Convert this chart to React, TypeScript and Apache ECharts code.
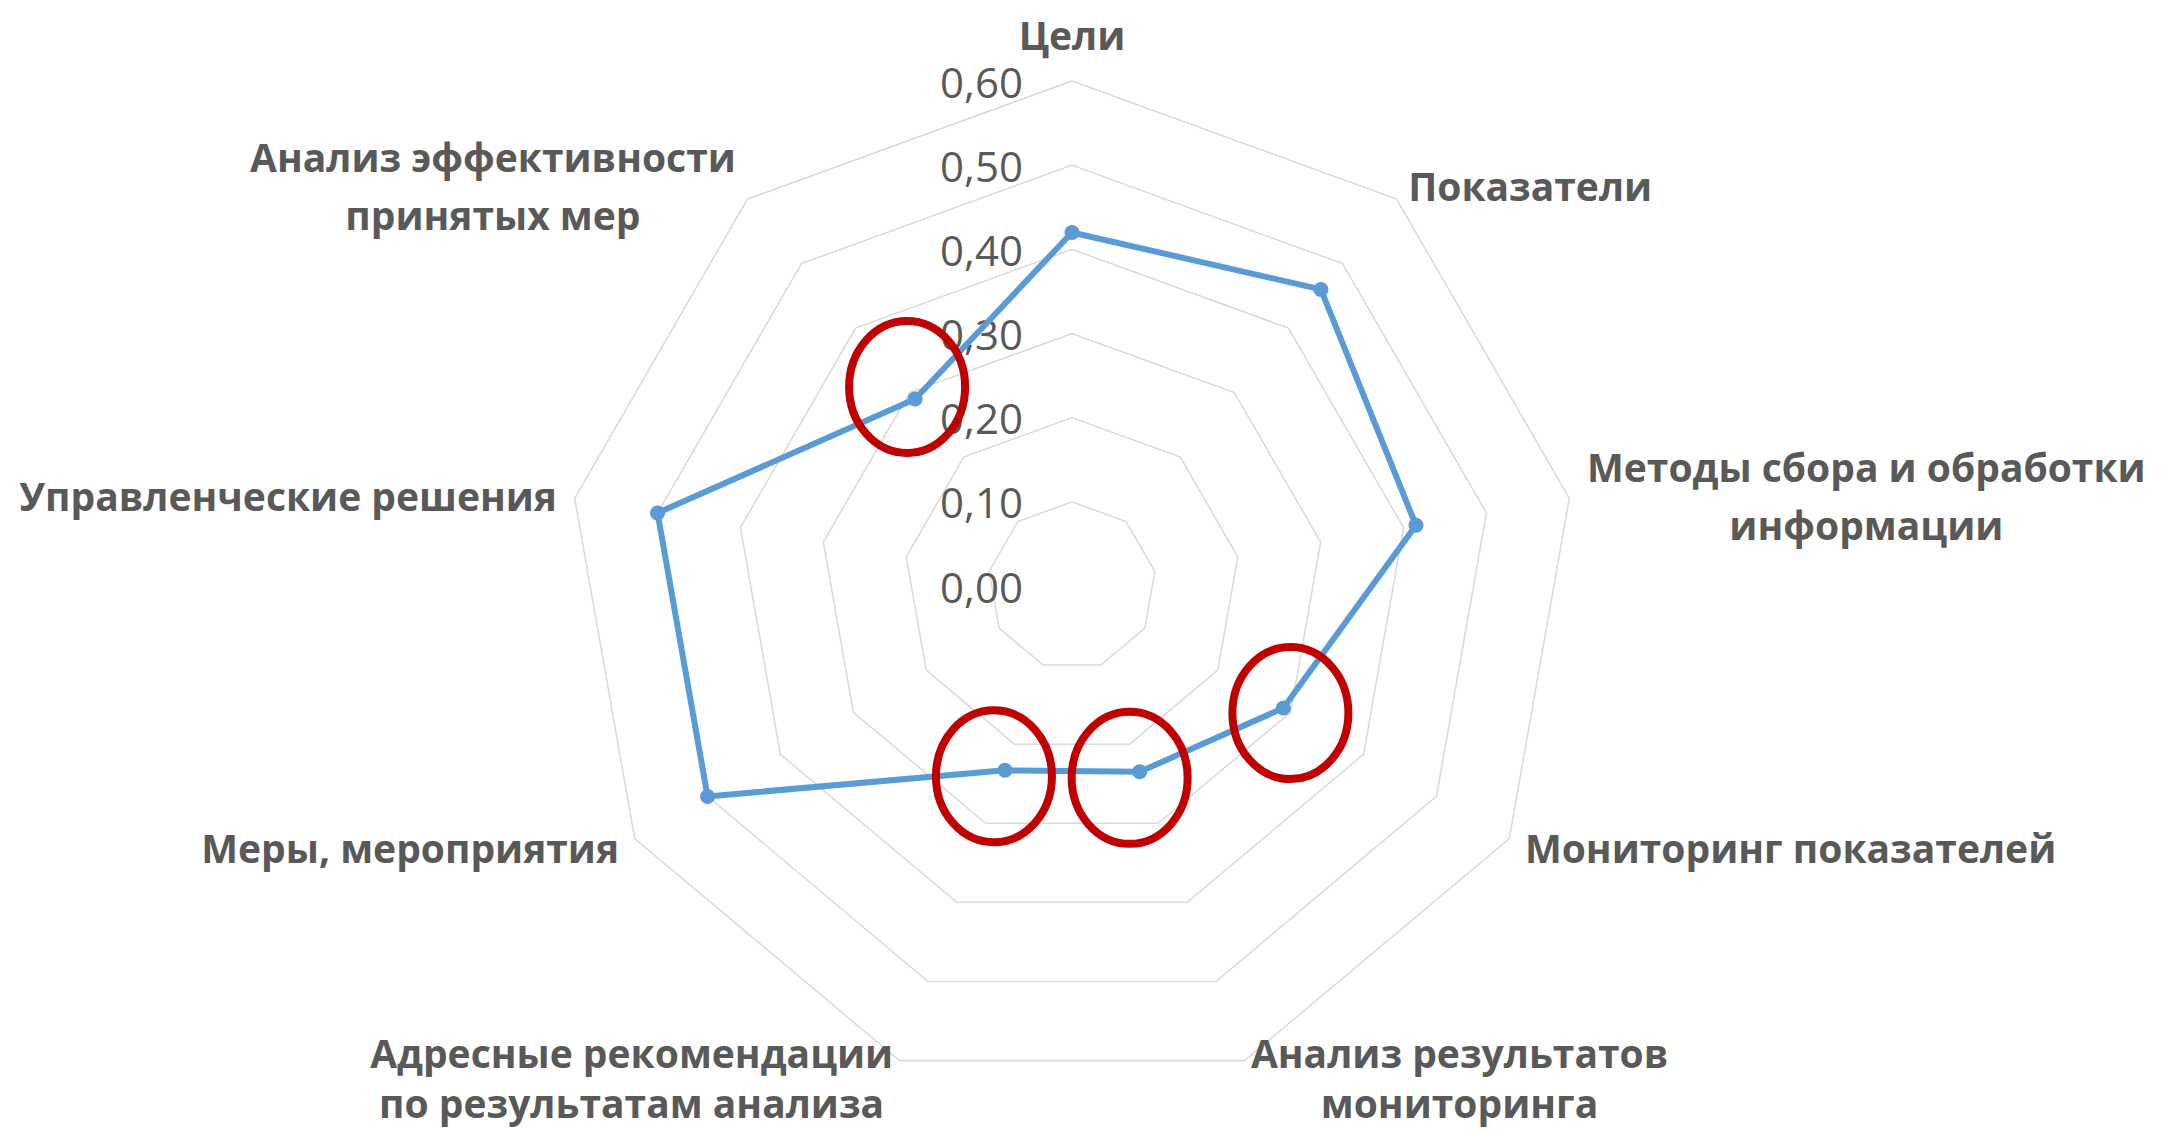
import React, { useEffect, useRef } from 'react';
import * as echarts from 'echarts';

// ---- data ----
const categories: string[] = [
  'Цели',
  'Показатели',
  'Методы сбора и обработки\nинформации',
  'Мониторинг показателей',
  'Анализ результатов\nмониторинга',
  'Адресные рекомендации\nпо результатам анализа',
  'Меры, мероприятия',
  'Управленческие решения',
  'Анализ эффективности\nпринятых мер',
];
const values: number[] = [0.42, 0.46, 0.415, 0.29, 0.235, 0.233, 0.5, 0.5, 0.29];
const axisMin = 0;
const axisMax = 0.6;
const axisInterval = 0.1;
// indices of highlighted (circled) points, with small hand-drawn offsets
const highlighted: number[] = [8, 3, 4, 5];
const highlightOffsets: number[][] = [[-8, -12], [7, 5], [-10, 6], [-11, 6]];
// labels near the bottom edge get a tighter line height
const tightLabels: number[] = [4, 5];

// ---- layout ----
const W = 2168;
const H = 1131;
const CX = 1072;
const CY = 586;
const R = 505;

const TEXT = '#595959';
const FONT = 'Open Sans';
const NAME_SIZE = 39;

export default function App() {
  const ref = useRef<HTMLDivElement>(null);
  useEffect(() => {
    if (!ref.current) return;
    const chart = echarts.init(ref.current, undefined, { renderer: 'svg' });
    const n = categories.length;
    // ECharts radar runs counter-clockwise; reorder to get clockwise order
    const order = [0, ...Array.from({ length: n - 1 }, (_, k) => n - 1 - k)];
    const tightNames = tightLabels.map((i) => categories[i]);

    const ellipses = highlighted.map((idx, j) => {
      const theta = (idx * 2 * Math.PI) / n;
      const r = ((values[idx] - axisMin) / (axisMax - axisMin)) * R;
      const px = CX + r * Math.sin(theta);
      const py = CY - r * Math.cos(theta);
      return {
        type: 'ellipse',
        z: 100,
        shape: { cx: px + highlightOffsets[j][0], cy: py + highlightOffsets[j][1], rx: 58, ry: 66 },
        style: { fill: 'none', stroke: '#C00000', lineWidth: 8 },
        silent: true,
      };
    });

    const nameStyle = {
      align: 'center',
      color: TEXT,
      fontFamily: FONT,
      fontWeight: 'bold',
      fontSize: NAME_SIZE,
    };

    chart.setOption({
      animation: false,
      backgroundColor: '#ffffff',
      radar: {
        center: [CX, CY],
        radius: R,
        startAngle: 90,
        shape: 'polygon',
        splitNumber: 6,
        nameGap: 18,
        indicator: order.map((i) => ({ name: categories[i], min: axisMin, max: axisMax })),
        axisName: {
          color: TEXT,
          fontFamily: FONT,
          fontWeight: 'bold',
          fontSize: NAME_SIZE,
          formatter: (name: string) => {
            const tag = tightNames.indexOf(name) >= 0 ? 't' : 'c';
            return name
              .split('\n')
              .map((l) => `{${tag}|${l}}`)
              .join('\n');
          },
          rich: {
            c: { ...nameStyle, lineHeight: 58 },
            t: { ...nameStyle, lineHeight: 50 },
          },
        },
        axisLine: { show: false },
        axisTick: { show: false },
        axisLabel: { show: false },
        splitLine: { lineStyle: { color: '#D9D9D9', width: 1.5 } },
        splitArea: { show: false },
      },
      polar: { center: [CX, CY], radius: R },
      angleAxis: { show: false, type: 'value', startAngle: 90, min: 0, max: 360 },
      radiusAxis: {
        type: 'value',
        min: axisMin,
        max: axisMax,
        interval: axisInterval,
        axisLine: { show: false },
        axisTick: { show: false },
        splitLine: { show: false },
        axisLabel: {
          show: true,
          margin: 49,
          color: TEXT,
          fontFamily: FONT,
          fontSize: 42,
          formatter: (v: number) => v.toFixed(2).replace('.', ','),
        },
      },
      series: [
        {
          type: 'radar',
          symbol: 'circle',
          symbolSize: 15,
          lineStyle: { color: '#5B9BD5', width: 6 },
          itemStyle: { color: '#5B9BD5' },
          data: [{ value: order.map((i) => values[i]), name: 'Значение' }],
        },
      ],
      graphic: ellipses,
    });
    return () => chart.dispose();
  }, []);
  return (
    <div
      ref={ref}
      style={{ position: 'fixed', left: 0, top: 0, width: W, height: H, background: '#fff' }}
    />
  );
}
